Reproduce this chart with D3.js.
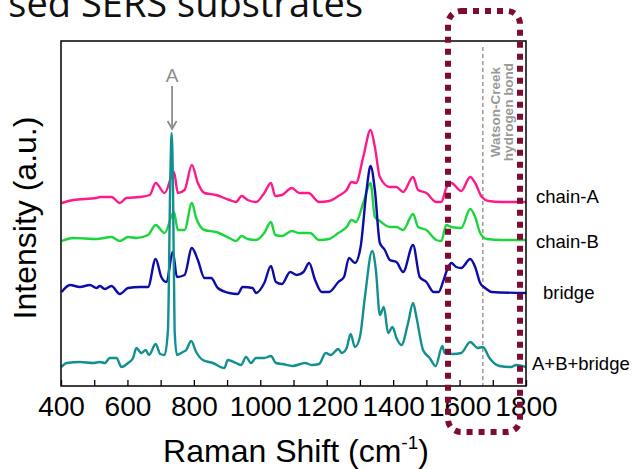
<!DOCTYPE html>
<html>
<head>
<meta charset="utf-8">
<script src="https://cdn.jsdelivr.net/npm/d3@7"></script>
<style>
  html, body { margin: 0; padding: 0; background: #fff; }
  svg { display: block; }
</style>
</head>
<body>
<svg id="chart" width="633" height="469"></svg>
<script>
// ---------- data (Raman shift in cm-1, intensity in a.u. incl. stacking offset) ----------
const seriesNames = ["chain-A", "chain-B", "bridge", "A+B+bridge"];

const chainA = [[402,183],[437,186],[507,188],[517,189],[552,189],[577,183],[597,188],[637,189],[667,191],[685,203],[712,193],[740,214],[752,193],[772,196],[794,221],[812,203],[832,193],[867,191],[907,186],[927,184],[944,190],[962,186],[987,184],[1012,193],[1032,203],[1045,190],[1065,191],[1095,198],[1117,193],[1145,193],[1177,184],[1207,185],[1235,190],[1260,196],[1275,204],[1288,203],[1310,229],[1332,256],[1345,239],[1360,209],[1390,199],[1410,199],[1430,194],[1460,209],[1475,196],[1500,193],[1530,184],[1545,184],[1560,198],[1575,203],[1605,195],[1632,209],[1647,203],[1667,189],[1687,185],[1727,184],[1800,184]];

const chainB = [[402,145],[437,148],[507,147],[552,149],[577,145],[602,149],[627,148],[662,151],[685,161],[712,153],[740,174],[752,156],[772,156],[794,183],[807,168],[832,156],[867,154],[907,148],[927,145],[944,150],[962,147],[987,146],[1012,153],[1032,164],[1045,151],[1065,150],[1095,155],[1117,153],[1150,153],[1177,146],[1207,147],[1235,153],[1260,159],[1275,166],[1288,164],[1310,183],[1332,203],[1345,169],[1360,165],[1390,159],[1410,159],[1430,156],[1460,172],[1475,159],[1500,156],[1530,146],[1545,145],[1560,161],[1575,159],[1605,158],[1632,177],[1647,169],[1662,153],[1682,147],[1727,146],[1800,146]];

const bridge = [[402,94],[427,101],[457,99],[487,101],[507,98],[517,100],[532,97],[552,100],[577,92],[602,98],[637,99],[662,99],[685,127],[702,109],[717,104],[737,134],[749,109],[772,111],[794,138],[812,126],[832,108],[852,108],[872,98],[907,93],[932,92],[947,99],[977,98],[987,93],[1012,103],[1032,120],[1047,104],[1065,102],[1090,114],[1110,111],[1130,114],[1147,123],[1165,106],[1185,94],[1207,94],[1235,104],[1252,109],[1267,128],[1285,123],[1302,139],[1320,196],[1332,220],[1345,196],[1360,143],[1375,136],[1390,126],[1410,124],[1430,114],[1460,141],[1480,109],[1500,104],[1522,94],[1537,94],[1550,104],[1560,114],[1575,123],[1590,119],[1605,118],[1632,127],[1647,119],[1662,103],[1677,98],[1697,94],[1800,93]];

const mixed = [[402,19],[417,23],[457,24],[497,23],[517,24],[532,23],[547,28],[567,28],[582,19],[602,23],[617,28],[627,38],[642,33],[655,36],[665,31],[685,42],[699,32],[712,31],[722,56],[729,206],[733,253],[737,206],[742,56],[749,31],[767,34],[777,36],[792,45],[807,34],[827,26],[857,23],[892,18],[902,26],[927,23],[942,21],[957,29],[972,23],[987,28],[1012,28],[1032,30],[1047,23],[1067,22],[1097,20],[1135,23],[1155,21],[1177,22],[1197,33],[1212,31],[1235,37],[1245,33],[1260,38],[1272,52],[1285,39],[1300,49],[1315,89],[1337,135],[1348,116],[1360,71],[1372,79],[1385,53],[1398,59],[1410,48],[1425,41],[1445,63],[1460,83],[1470,69],[1490,36],[1510,28],[1528,20],[1548,40],[1555,33],[1580,32],[1605,33],[1632,44],[1655,38],[1670,39],[1690,28],[1720,20],[1755,19],[1770,21],[1800,19]];

const seriesData = [chainA, chainB, bridge, mixed];
const seriesColors = ["#ff1a8c", "#1ad63c", "#0c0ca8", "#138f8f"];

const xTicks = [400,500,600,700,800,900,1000,1100,1200,1300,1400,1500,1600,1700,1800];
const xLabelTicks = [400,600,800,1000,1200,1400,1600,1800];
const markerShift = 733;      // band "A"
const hbondShift = 1670;      // Watson-Creek hydrogen bond line
const boxRange = [1558, 1780]; // highlighted region

// ---------- layout ----------
const svg = d3.select("#chart");
const L = 61, R = 526, T = 41, B = 386;
const x = d3.scaleLinear().domain([400, 1800]).range([L, R]);
const y = d3.scaleLinear().domain([0, 345]).range([B, T]);

// title (cut off at top)
svg.append("text")
  .attr("x", 363).attr("y", 17)
  .attr("text-anchor", "end")
  .style("font-family", "'Open Sans', sans-serif")
  .style("font-size", "38px")
  .style("fill", "#111")
  .text("sed SERS substrates");

// dashed hydrogen-bond line
svg.append("line")
  .attr("x1", x(hbondShift)).attr("x2", x(hbondShift))
  .attr("y1", T + 6).attr("y2", B)
  .attr("stroke", "#999").attr("stroke-width", 1.5)
  .attr("stroke-dasharray", "4,3");

svg.append("text")
  .attr("transform", `translate(${x(hbondShift) + 17},${112}) rotate(-90)`)
  .attr("text-anchor", "middle")
  .style("font-family", "'Liberation Sans', Arial, sans-serif")
  .style("font-weight", "bold")
  .style("font-size", "13.5px")
  .style("fill", "#999")
  .selectAll("tspan").data(["Watson-Creek", "hydrogen bond"]).join("tspan")
  .attr("x", 0).attr("dy", (d, i) => i === 0 ? 0 : "1em")
  .text(d => d);

// spectra
const line = d3.line().x(d => x(d[0])).y(d => y(d[1])).curve(d3.curveMonotoneX);
svg.append("g").selectAll("path").data(seriesData).join("path")
  .attr("d", line)
  .attr("fill", "none")
  .attr("stroke", (d, i) => seriesColors[i])
  .attr("stroke-width", 2.4)
  .attr("stroke-linejoin", "round");

// frame
svg.append("rect")
  .attr("x", L).attr("y", T).attr("width", R - L).attr("height", B - T)
  .attr("fill", "none").attr("stroke", "#000").attr("stroke-width", 1.5);

// x axis
const xAxis = d3.axisBottom(x)
  .tickValues(xTicks)
  .tickFormat(d => xLabelTicks.includes(d) ? d : "")
  .tickSizeInner(-6).tickSizeOuter(0);
const gx = svg.append("g").attr("transform", `translate(0,${B})`).call(xAxis);
gx.select(".domain").remove();
gx.selectAll(".tick line").attr("stroke", "#000").attr("stroke-width", 1.3);
gx.selectAll(".tick text")
  .attr("y", 30).attr("dy", 0)
  .style("font-family", "'Liberation Sans', Arial, sans-serif")
  .style("font-size", "28px")
  .style("fill", "#000");

// axis titles
const xt = svg.append("text")
  .attr("x", 296).attr("y", 462)
  .attr("text-anchor", "middle")
  .style("font-family", "'Liberation Sans', Arial, sans-serif")
  .style("font-size", "32px")
  .style("fill", "#000");
xt.append("tspan").text("Raman Shift (cm");
xt.append("tspan").attr("dy", -13).style("font-size", "19px").text("-1");
xt.append("tspan").attr("dy", 13).text(")");

svg.append("text")
  .attr("transform", "translate(36,218) rotate(-90)")
  .attr("text-anchor", "middle")
  .style("font-family", "'Liberation Sans', Arial, sans-serif")
  .style("font-size", "32px")
  .style("fill", "#000")
  .text("Intensity (a.u.)");

// series labels
const labelPos = [[536, 203], [536, 248], [543, 299], [532, 370]];
svg.append("g").selectAll("text").data(seriesNames).join("text")
  .attr("x", (d, i) => labelPos[i][0]).attr("y", (d, i) => labelPos[i][1])
  .style("font-family", "'Liberation Sans', Arial, sans-serif")
  .style("font-size", "18.5px")
  .style("fill", "#000")
  .text(d => d);

// band A marker
const ax = x(markerShift) + 0.5;
svg.append("text")
  .attr("x", ax).attr("y", 82)
  .attr("text-anchor", "middle")
  .style("font-family", "'Liberation Sans', Arial, sans-serif")
  .style("font-size", "19px")
  .style("fill", "#8c8c8c")
  .text("A");
svg.append("line")
  .attr("x1", ax).attr("x2", ax).attr("y1", 86).attr("y2", 129)
  .attr("stroke", "#8c8c8c").attr("stroke-width", 1.8);
svg.append("path")
  .attr("d", `M${ax - 4.5},${121} L${ax},${129} L${ax + 4.5},${121}`)
  .attr("fill", "none").attr("stroke", "#8c8c8c").attr("stroke-width", 1.8);

// highlight box (dotted, rounded)
svg.append("rect")
  .attr("x", 448).attr("y", 11).attr("width", 72).attr("height", 421)
  .attr("rx", 13).attr("ry", 13)
  .attr("fill", "none")
  .attr("stroke", "#7d0c30").attr("stroke-width", 6)
  .attr("stroke-dasharray", "6,6");
</script>
</body>
</html>
